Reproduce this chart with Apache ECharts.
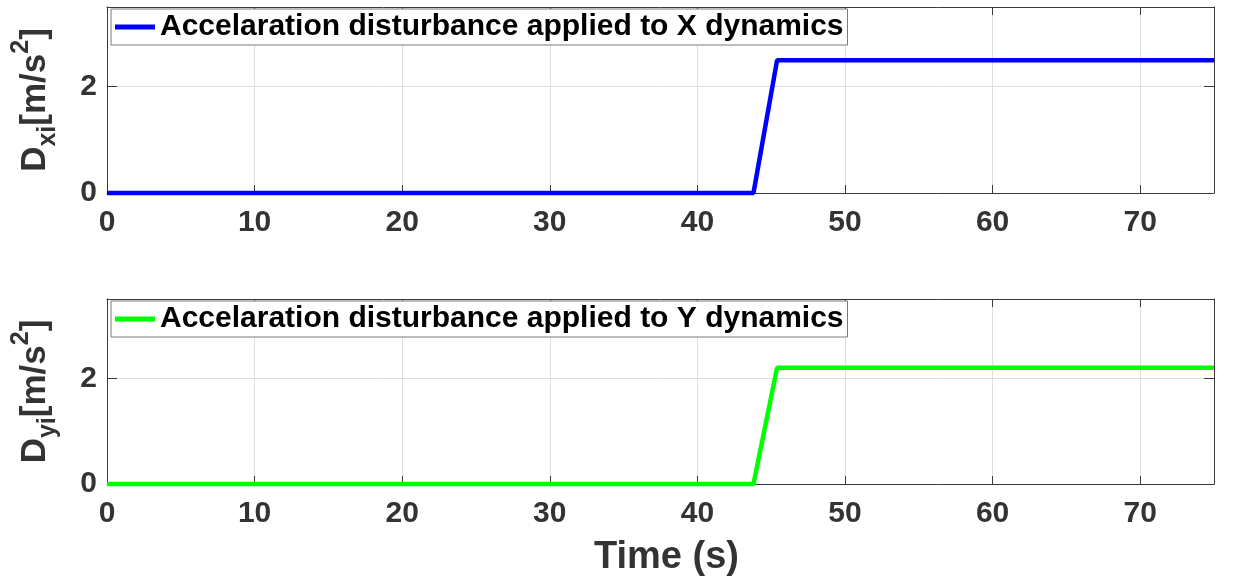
<!DOCTYPE html>
<html>
<head>
<meta charset="utf-8">
<script src="https://cdn.jsdelivr.net/npm/echarts@6/dist/echarts.min.js"></script>
<style>
html,body{margin:0;padding:0;background:#fff;}
#chart{width:1233px;height:578px;}
</style>
</head>
<body>
<div id="chart"></div>
<script>
// Data
const timeX = [0, 43.8, 45.4, 75];
const distX = [0, 0, 2.5, 2.5];
const timeY = [0, 43.8, 45.4, 75];
const distY = [0, 0, 2.2, 2.2];
const xTicks = [0, 10, 20, 30, 40, 50, 60, 70];
const yTicks = [0, 2];
const legendX = 'Accelaration disturbance applied to X dynamics';
const legendY = 'Accelaration disturbance applied to Y dynamics';

const FONT = '"Liberation Sans", Arial, Helvetica, sans-serif';
const AXC = '#3a3a3a';
const GRIDC = '#dedede';

function pairs(xs, ys){ return xs.map((x,i)=>[x, ys[i]]); }

function xAx(gi, showLabels, name){
  return {
    type:'value', gridIndex:gi, min:0, max:75, interval:10, position:'bottom',
    axisLine:{show:true, onZero:false, lineStyle:{color:AXC, width:1}},
    axisTick:{show:true, inside:true, length:8, lineStyle:{color:AXC}},
    axisLabel:{show:showLabels, showMaxLabel:false, margin:15, color:'#333', fontSize:30, fontWeight:'bold', fontFamily:FONT},
    splitLine:{show:true, lineStyle:{color:GRIDC, width:1}},
    name: name || '', nameLocation:'middle', nameGap:55,
    nameTextStyle:{color:'#333', fontSize:38, fontWeight:'bold', fontFamily:FONT, padding:[0,0,0,12]}
  };
}
function xAxTop(gi){
  return {
    type:'value', gridIndex:gi, min:0, max:75, interval:10, position:'top',
    axisLine:{show:true, onZero:false, lineStyle:{color:AXC, width:1}},
    axisTick:{show:true, inside:true, length:8, lineStyle:{color:AXC}},
    axisLabel:{show:false}, splitLine:{show:false}
  };
}
function yAx(gi, sub){
  return {
    type:'value', gridIndex:gi, min:0, max:3.5, interval:2, position:'left',
    axisLine:{show:true, onZero:false, lineStyle:{color:AXC, width:1}},
    axisTick:{show:true, inside:true, length:10, lineStyle:{color:AXC}},
    axisLabel:{showMaxLabel:false, margin:10, color:'#333', fontSize:30, fontWeight:'bold', fontFamily:FONT},
    splitLine:{show:true, lineStyle:{color:GRIDC, width:1}},
    name:'{a|D}{b|' + sub + '}{a|[m/s}{c|2}{a|]}',
    nameLocation:'middle', nameRotate:90, nameGap:46,
    nameTextStyle:{
      color:'#333', fontFamily:FONT, fontWeight:'bold',
      rich:{
        a:{fontSize:35, fontWeight:'bold', fontFamily:FONT, color:'#333', lineHeight:52, verticalAlign:'middle'},
        b:{fontSize:25, fontWeight:'bold', fontFamily:FONT, color:'#333', lineHeight:24, verticalAlign:'bottom'},
        c:{fontSize:25, fontWeight:'bold', fontFamily:FONT, color:'#333', lineHeight:24, verticalAlign:'top'}
      }
    }
  };
}
function yAxRight(gi){
  return {
    type:'value', gridIndex:gi, min:0, max:3.5, interval:2, position:'right',
    axisLine:{show:true, onZero:false, lineStyle:{color:AXC, width:1}},
    axisTick:{show:true, inside:true, length:10, lineStyle:{color:AXC}},
    axisLabel:{show:false}, splitLine:{show:false}
  };
}
function legend(top, name){
  return {
    data:[name], left:111, top:top, orient:'horizontal',
    backgroundColor:'#fff', borderColor:'#7a7a7a', borderWidth:1, borderRadius:0,
    padding:[3,4,3,4], icon:'rect', itemWidth:40, itemHeight:5,
    textStyle:{color:'#000', fontSize:30, fontWeight:'bold', fontFamily:FONT}
  };
}

const chart = echarts.init(document.getElementById('chart'), null, {renderer:'canvas'});
chart.setOption({
  animation:false,
  backgroundColor:'#fff',
  grid:[
    {left:107, right:19, top:7, height:186},
    {left:107, right:19, top:299, height:188}
  ],
  xAxis:[xAx(0,true), xAx(1,true,'Time (s)'), xAxTop(0), xAxTop(1)],
  yAxis:[yAx(0,'xi'), yAx(1,'yi'), yAxRight(0), yAxRight(1)],
  legend:[legend(9, legendX), legend(301, legendY)],
  series:[
    {name:legendX, type:'line', xAxisIndex:0, yAxisIndex:0, data:pairs(timeX, distX),
     showSymbol:false, symbol:'none', clip:false, color:'#0000ff', lineStyle:{color:'#0000ff', width:4.5}, z:5},
    {name:legendY, type:'line', xAxisIndex:1, yAxisIndex:1, data:pairs(timeY, distY),
     showSymbol:false, symbol:'none', clip:false, color:'#00ff00', lineStyle:{color:'#00ff00', width:4.5}, z:5}
  ]
});
</script>
</body>
</html>
